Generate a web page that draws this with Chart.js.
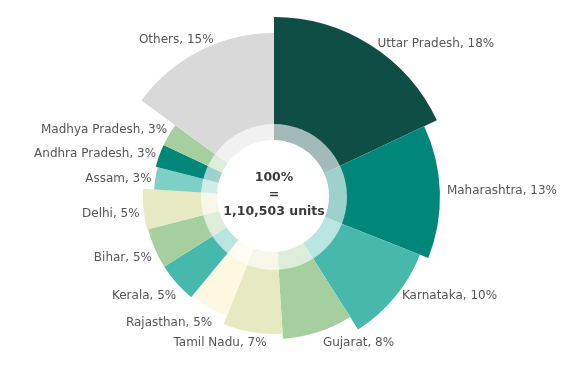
<!DOCTYPE html>
<html>
<head>
<meta charset="utf-8">
<script src="https://cdn.jsdelivr.net/npm/chart.js@4.4.1/dist/chart.umd.min.js"></script>
<style>
  html, body { margin: 0; padding: 0; background: #fff; }
  #wrap { width: 577px; height: 378px; position: relative; }
</style>
</head>
<body>
<div id="wrap"><canvas id="shareChart"></canvas></div>
<script>
const states = ["Uttar Pradesh", "Maharashtra", "Karnataka", "Gujarat", "Tamil Nadu", "Rajasthan",
  "Kerala", "Bihar", "Delhi", "Assam", "Andhra Pradesh", "Madhya Pradesh", "Others"];
// share of units, % (sets the slice angle)
const shares = [18, 13, 10, 8, 7, 5, 5, 5, 5, 3, 3, 3, 15];
// relative size index (sets the slice length), 0-100
const sizeIndex = [100, 92.2, 87.2, 78.9, 76.1, 71.1, 72.2, 72.2, 72.8, 66.7, 67.8, 67.8, 91.1];
const sliceColors = ["#0e4e45", "#00877a", "#47b8ac", "#a6cf9f", "#e7e9c3", "#fff8e1",
  "#47b8ac", "#a6cf9f", "#e7e9c3", "#7ecfc5", "#00877a", "#a6cf9f", "#d9d9d9"];
const centerLines = ["100%", "=", "1,10,503 units"];

const labelFont = "12px 'DejaVu Sans'";

// faded ring, white hole, centre text and the outside labels
const decorations = {
  id: "decorations",
  afterDatasetsDraw(chart) {
    const c = chart.ctx;
    const scale = chart.scales.r;
    const cx = scale.xCenter, cy = scale.yCenter;

    c.save();
    c.beginPath();
    c.arc(cx, cy, 73, 0, Math.PI * 2);
    c.fillStyle = "rgba(255,255,255,0.62)";
    c.fill();
    c.beginPath();
    c.arc(cx - 1, cy - 1, 56, 0, Math.PI * 2);
    c.fillStyle = "#fff";
    c.fill();

    c.fillStyle = "#3b3b3b";
    c.font = "bold 12.5px 'DejaVu Sans'";
    c.textAlign = "center";
    c.textBaseline = "middle";
    c.fillText(centerLines[0], cx, cy - 19);
    c.fillText(centerLines[1], cx, cy - 2);
    c.fillText(centerLines[2], cx, cy + 15);

    c.font = labelFont;
    c.fillStyle = "#555";
    const meta = chart.getDatasetMeta(0);
    meta.data.forEach((arc, i) => {
      const p = arc.getProps(["x", "y", "startAngle", "endAngle", "outerRadius"], true);
      const mid = (p.startAngle + p.endAngle) / 2;
      const dx = Math.cos(mid), dy = Math.sin(mid);
      const ax = p.x + dx * p.outerRadius, ay = p.y + dy * p.outerRadius;
      const text = `${states[i]}, ${shares[i]}%`;
      if (Math.abs(dy) > 0.87) {
        // near the top or bottom: sit just past the arc
        c.textAlign = dx >= 0 ? "left" : "right";
        c.fillText(text, ax + (dx >= 0 ? 5 : 14), ay + Math.sign(dy) * 11);
      } else if (dx >= 0) {
        c.textAlign = "left";
        c.fillText(text, ax + 7, ay - 1);
      } else {
        const r = p.outerRadius + 15;
        c.textAlign = "right";
        c.fillText(text, p.x + dx * r + 11, p.y + dy * r + 3);
      }
    });
    c.restore();
  },
};

const ctx = document.getElementById("shareChart").getContext("2d");

const shareChart = new Chart(ctx, {
  type: "polarArea",
  data: {
    labels: states,
    datasets: [
      {
        data: sizeIndex,
        backgroundColor: sliceColors,
        borderWidth: 0,
        angle: (c) => shares[c.dataIndex] * 3.6,
      },
    ],
  },
  options: {
    responsive: true,
    maintainAspectRatio: false,
    animation: false,
    layout: { padding: { top: 17, bottom: 1, left: 0, right: 29 } },
    scales: {
      r: {
        display: false,
        min: 0,
        max: 100,
        startAngle: 0,
      },
    },
    plugins: {
      legend: { display: false },
      tooltip: { enabled: false },
    },
  },
  plugins: [decorations],
});
</script>
</body>
</html>
